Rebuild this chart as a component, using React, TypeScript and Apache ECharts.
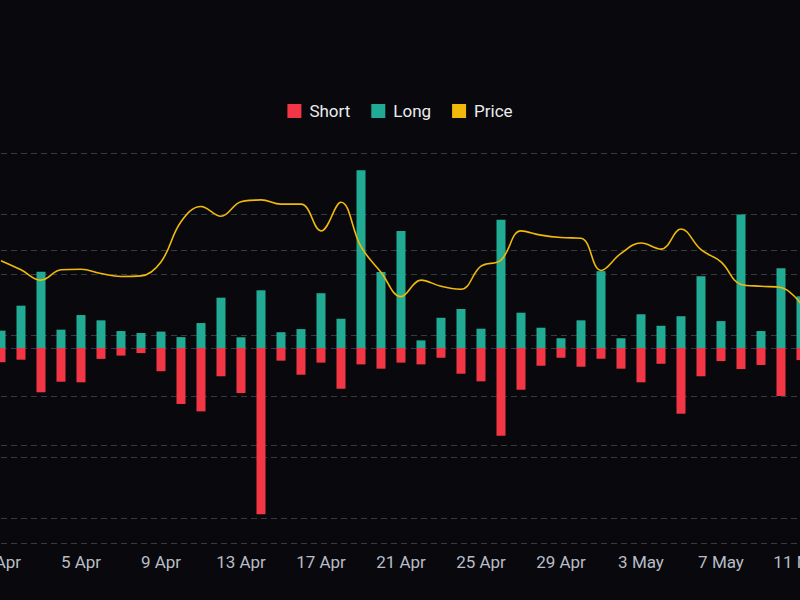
import React, { useEffect, useRef } from "react";
import * as echarts from "echarts";

const categories: string[] = [
  "1 Apr", "2 Apr", "3 Apr", "4 Apr", "5 Apr", "6 Apr", "7 Apr", "8 Apr", "9 Apr", "10 Apr",
  "11 Apr", "12 Apr", "13 Apr", "14 Apr", "15 Apr", "16 Apr", "17 Apr", "18 Apr", "19 Apr", "20 Apr",
  "21 Apr", "22 Apr", "23 Apr", "24 Apr", "25 Apr", "26 Apr", "27 Apr", "28 Apr", "29 Apr", "30 Apr",
  "1 May", "2 May", "3 May", "4 May", "5 May", "6 May", "7 May", "8 May", "9 May", "10 May", "11 May",
];

const longValues: number[] = [
  8.9, 21.7, 39.1, 9.4, 16.9, 14.2, 8.7, 7.7, 8.4, 5.6,
  12.8, 25.8, 5.5, 29.6, 8.1, 9.7, 28.1, 15.0, 91.1, 39.0,
  60.0, 3.9, 15.5, 20.0, 9.9, 65.8, 18.1, 10.4, 5.0, 14.2,
  39.4, 5.0, 17.3, 11.4, 16.3, 36.8, 13.8, 68.4, 8.7, 40.9, 26.5,
];

const shortValues: number[] = [
  -7.3, -6.0, -22.7, -17.3, -17.6, -5.6, -3.9, -2.6, -11.9, -28.7,
  -32.5, -14.5, -23.1, -85.3, -6.5, -13.7, -7.5, -20.9, -8.4, -10.6,
  -7.5, -8.4, -5.0, -13.2, -17.1, -45.0, -21.4, -9.1, -5.0, -9.6,
  -5.5, -10.6, -17.6, -8.1, -33.7, -14.5, -6.7, -10.8, -8.7, -24.6, -6.2,
];

const priceValues: number[] = [
  142.3, 140.8, 139.1, 140.8, 140.9, 140.2, 139.7, 139.8, 142.1, 148.7,
  151.2, 149.6, 152.0, 152.3, 151.6, 151.6, 147.2, 151.9, 144.6, 140.4,
  136.4, 139.1, 138.1, 137.6, 141.4, 142.4, 147.2, 146.5, 146.1, 146.0,
  140.7, 143.5, 145.2, 144.2, 147.5, 144.1, 142.1, 138.4, 138.1, 137.9, 135.2,
];

const RED = "#f23645";
const TEAL = "#22ab94";
const YELLOW = "#f0b90b";
const GRID = "#383b42";
const FONT = "Roboto, 'Noto Sans', sans-serif";

export default function App() {
  const ref = useRef<HTMLDivElement | null>(null);

  useEffect(() => {
    document.body.style.margin = "0";
    document.body.style.background = "#09090d";
    document.body.style.overflow = "hidden";
    document.documentElement.style.overflow = "hidden";
    if (!ref.current) return;
    const chart = echarts.init(ref.current, undefined, { renderer: "svg" });
    const splitLine = {
      show: true,
      lineStyle: { color: GRID, type: [6, 4] as any, width: 1 },
    };
    chart.setOption({
      animation: false,
      backgroundColor: "#09090d",
      textStyle: { fontFamily: FONT },
      legend: {
        data: ["Short", "Long", "Price"],
        top: 96,
        left: "center",
        icon: "rect",
        itemWidth: 14,
        itemHeight: 14,
        itemGap: 21,
        textStyle: {
          color: "#eaecef",
          fontSize: 17,
          lineHeight: 20,
          fontFamily: FONT,
          padding: [0, 0, 0, 3],
        },
      },
      grid: { left: 41, right: 39, top: 153, bottom: 57, containLabel: false },
      xAxis: {
        type: "category",
        data: categories,
        boundaryGap: true,
        axisLine: { show: false },
        axisTick: { show: false },
        axisLabel: {
          interval: 3,
          color: "#b7bdc6",
          fontSize: 17,
          margin: 10,
          fontFamily: FONT,
        },
        splitLine: { show: false },
      },
      yAxis: [
        {
          type: "value",
          min: -100,
          max: 100,
          interval: 50,
          axisLabel: { show: false },
          axisLine: { show: false },
          axisTick: { show: false },
          splitLine,
        },
        {
          type: "value",
          min: 95.9,
          max: 160,
          splitNumber: 6,
          axisLabel: { show: false },
          axisLine: { show: false },
          axisTick: { show: false },
          splitLine,
        },
      ],
      series: [
        {
          name: "Short",
          type: "bar",
          stack: "ls",
          barWidth: 9,
          data: shortValues,
          itemStyle: { color: RED },
        },
        {
          name: "Long",
          type: "bar",
          stack: "ls",
          barWidth: 9,
          data: longValues,
          itemStyle: { color: TEAL },
        },
        {
          name: "Price",
          type: "line",
          yAxisIndex: 1,
          data: priceValues,
          smooth: 0.4,
          symbol: "none",
          itemStyle: { color: YELLOW },
          lineStyle: { color: YELLOW, width: 1.6 },
          z: 5,
        },
      ],
    });
    return () => chart.dispose();
  }, []);

  return (
    <div
      ref={ref}
      style={{ position: "fixed", left: -50, top: 0, width: 900, height: 600 }}
    />
  );
}
